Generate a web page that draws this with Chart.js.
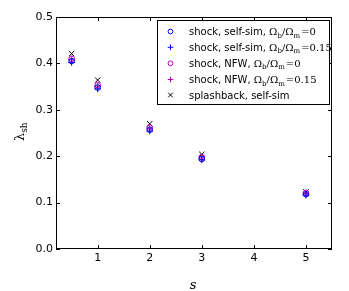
<!DOCTYPE html>
<html><head><meta charset="utf-8">
<script src="https://cdn.jsdelivr.net/npm/chart.js@4"></script>
<style>html,body{margin:0;padding:0;background:#fff}#wrap{width:349px;height:291px}</style>
</head><body><div id="wrap"><canvas id="c" width="349" height="291"></canvas></div>
<script>
const sValues = [0.5, 1, 2, 3, 5];
const shockSelfSim0 = [0.405, 0.348, 0.257, 0.194, 0.118];
const shockSelfSim015 = [0.402, 0.345, 0.254, 0.192, 0.116];
const shockNFW0 = [0.410, 0.353, 0.262, 0.198, 0.121];
const shockNFW015 = [0.408, 0.351, 0.260, 0.196, 0.120];
const splashSelfSim = [0.421, 0.364, 0.270, 0.204, 0.123];
const xTicks = [1, 2, 3, 4, 5];
const yTicks = [0.0, 0.1, 0.2, 0.3, 0.4, 0.5];
const legendNames = ["shock, self-sim, ", "shock, self-sim, ", "shock, NFW, ", "shock, NFW, ", "splashback, self-sim"];
const legendRatio = ["=0", "=0.15", "=0", "=0.15", null];

const BLUE = '#0000ff', MAG = '#bf00bf', BLK = '#000000';
function pts(v){ return sValues.map((s,i)=>({x:s,y:v[i]})); }
const styles = [
  {style:'circle', color:BLUE, r:2.8},
  {style:'cross', color:BLUE, r:3.3},
  {style:'circle', color:MAG, r:2.8},
  {style:'cross', color:MAG, r:3.3},
  {style:'crossRot', color:BLK, r:3.8}
];
const series = [shockSelfSim0, shockSelfSim015, shockNFW0, shockNFW015, splashSelfSim];
const datasets = series.map((v,i)=>({
  label: legendNames[i] + (legendRatio[i] ? 'Ωb/Ωm' + legendRatio[i] : ''),
  data: pts(v), pointStyle: styles[i].style, pointRadius: styles[i].r,
  borderColor: styles[i].color, backgroundColor: 'rgba(0,0,0,0)', pointBorderWidth: 1, showLine:false
}));

function drawMarker(ctx, st, x, y){
  ctx.save(); ctx.strokeStyle = st.color; ctx.lineWidth = 1;
  const r = st.r*0.85;
  ctx.beginPath();
  if (st.style==='circle'){ ctx.arc(x,y,r,0,Math.PI*2); }
  else if (st.style==='cross'){ ctx.moveTo(x-r,y); ctx.lineTo(x+r,y); ctx.moveTo(x,y-r); ctx.lineTo(x,y+r); }
  else { const d=r*0.72; ctx.moveTo(x-d,y-d); ctx.lineTo(x+d,y+d); ctx.moveTo(x+d,y-d); ctx.lineTo(x-d,y+d); }
  ctx.stroke(); ctx.restore();
}

const decor = {
  id:'decor',
  afterDraw(chart){
    const ctx = chart.ctx, a = chart.chartArea, xs = chart.scales.x, ys = chart.scales.y;
    ctx.save();
    ctx.strokeStyle = '#000'; ctx.lineWidth = 1;
    ctx.strokeRect(Math.round(a.left)+0.5, Math.round(a.top)+0.5, Math.round(a.right-a.left)-1, Math.round(a.bottom-a.top)-1);
    const tl = 4;
    ctx.beginPath();
    xTicks.forEach(t=>{ const px = Math.round(xs.getPixelForValue(t))+0.5;
      ctx.moveTo(px,a.bottom); ctx.lineTo(px,a.bottom-tl); ctx.moveTo(px,a.top); ctx.lineTo(px,a.top+tl); });
    yTicks.forEach(t=>{ const py = Math.round(ys.getPixelForValue(t))+0.5;
      ctx.moveTo(a.left,py); ctx.lineTo(a.left+tl,py); ctx.moveTo(a.right,py); ctx.lineTo(a.right-tl,py); });
    ctx.stroke();
    // legend box
    const lx = 157.5, ly = 20.5, lw = 172, lh = 84;
    ctx.fillStyle = '#fff'; ctx.fillRect(lx,ly,lw,lh);
    ctx.strokeStyle = '#000'; ctx.strokeRect(lx,ly,lw,lh);
    const rows = [31.5, 47.3, 63.3, 79.5, 95];
    ctx.textBaseline = 'alphabetic'; ctx.textAlign='left';
    rows.forEach((ry,i)=>{
      drawMarker(ctx, styles[i], 170.5, ry);
      let x = 189; const base = ry + 3.5;
      ctx.fillStyle = '#000';
      ctx.font = '10px "DejaVu Sans"';
      ctx.fillText(legendNames[i], x, base); x += ctx.measureText(legendNames[i]).width;
      if (legendRatio[i]){
        const big = '10px "DejaVu Serif"', small = '7px "DejaVu Serif"';
        ctx.font = big; ctx.fillText('Ω', x, base); x += ctx.measureText('Ω').width;
        ctx.font = small; ctx.fillText('b', x, base+2.5); x += ctx.measureText('b').width;
        ctx.font = big; ctx.fillText('/Ω', x, base); x += ctx.measureText('/Ω').width;
        ctx.font = small; ctx.fillText('m', x, base+2.5); x += ctx.measureText('m').width+1;
        ctx.font = big; ctx.fillText(legendRatio[i], x, base);
      }
    });
    // axis labels
    ctx.fillStyle = '#000';
    ctx.font = 'italic 13px "DejaVu Serif"'; ctx.textAlign='center';
    ctx.fillText('s', 193, 289);
    ctx.save(); ctx.translate(24, 133); ctx.rotate(-Math.PI/2);
    ctx.textAlign='left';
    ctx.font = '13px "DejaVu Serif"'; ctx.fillText('λ', -8, 0);
    const w = ctx.measureText('λ').width;
    ctx.font = '9px "DejaVu Serif"'; ctx.fillText('sh', -8+w, 3);
    ctx.restore();
    ctx.restore();
  }
};

new Chart(document.getElementById('c'), {
  type:'scatter',
  data:{datasets},
  options:{
    responsive:false, animation:false, devicePixelRatio:1,
    layout:{padding:{left:0,right:17,top:17,bottom:0}},
    plugins:{legend:{display:false}, tooltip:{enabled:false}},
    scales:{
      x:{type:'linear', min:0.2, max:5.5,
        afterBuildTicks(s){ s.ticks = xTicks.map(v=>({value:v})); },
        afterFit(s){ s.height = 42; },
        grid:{display:false, drawTicks:false}, border:{display:false},
        ticks:{padding:3, color:'#000', font:{family:'DejaVu Sans', size:11}, callback:v=>String(v)}},
      y:{type:'linear', min:0, max:0.5,
        afterBuildTicks(s){ s.ticks = yTicks.map(v=>({value:v})); },
        afterFit(s){ s.width = 56; },
        grid:{display:false, drawTicks:false}, border:{display:false},
        ticks:{padding:3, color:'#000', font:{family:'DejaVu Sans', size:11}, callback:v=>Number(v).toFixed(1)}}
    }
  },
  plugins:[decor]
});
</script></body></html>
